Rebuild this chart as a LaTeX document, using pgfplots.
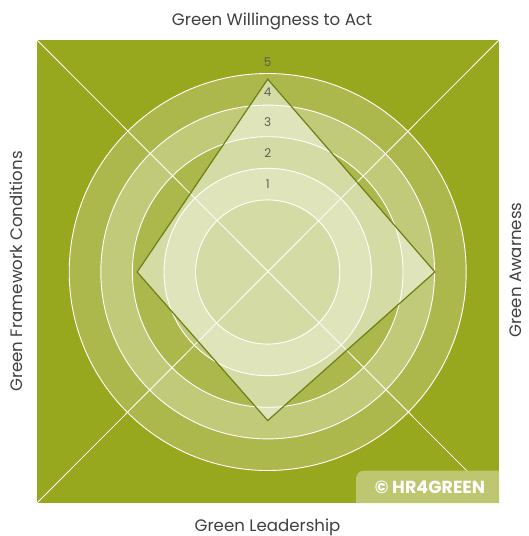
\documentclass[border=0pt]{standalone}
\usepackage{fontspec}
\setmainfont{Poppins}
\usepackage{pgfplots}
\pgfplotsset{compat=1.18}
\usepackage{pgfplotstable}
\definecolor{bg}{HTML}{97A71E}
\definecolor{darkband}{HTML}{ACB84B}
\definecolor{lightband}{HTML}{C1CA78}
\definecolor{edge}{HTML}{6E7F16}
\definecolor{boxc}{HTML}{BEC76F}
\definecolor{txt}{HTML}{404040}
\definecolor{numc}{HTML}{5F5F55}

\pgfplotstableread{
angle value
90 4.82
0 4.01
270 3.42
180 2.85
}\radar

\begin{document}
\begin{tikzpicture}
\begin{axis}[
 width=528pt, height=536pt, scale only axis,
 xmin=0, xmax=528, ymin=0, ymax=536, y dir=reverse,
 hide axis, clip=false,
]
\path (axis cs:0,0) rectangle (axis cs:528,536);
\fill[bg] (axis cs:37,40) rectangle (axis cs:499,503);
\fill[darkband] (axis cs:267.7,272) circle[radius=198.5pt];
\fill[lightband] (axis cs:267.7,272) circle[radius=166.9pt];
\fill[darkband] (axis cs:267.7,272) circle[radius=135.3pt];
\fill[lightband] (axis cs:267.7,272) circle[radius=103.7pt];
\fill[darkband] (axis cs:267.7,272) circle[radius=72.1pt];
\draw[white, line width=0.9pt] (axis cs:267.7,272) circle[radius=72.1pt];
\draw[white, line width=0.9pt] (axis cs:267.7,272) circle[radius=103.7pt];
\draw[white, line width=0.9pt] (axis cs:267.7,272) circle[radius=135.3pt];
\draw[white, line width=0.9pt] (axis cs:267.7,272) circle[radius=166.9pt];
\draw[white, line width=0.9pt] (axis cs:267.7,272) circle[radius=198.5pt];
\draw[white, line width=0.8pt] (axis cs:37,40) -- (axis cs:499,503);
\draw[white, line width=0.8pt] (axis cs:499,40) -- (axis cs:37,503);
\addplot[fill=white, fill opacity=0.5, draw=edge, line width=1.2pt, line join=miter]
  table[x expr={267.7+(40.5+31.6*\thisrow{value})*cos(\thisrow{angle})},
        y expr={272-(40.5+31.6*\thisrow{value})*sin(\thisrow{angle})}] {\radar} -- cycle;
\node[numc, font=\fontsize{12}{14}\selectfont] at (axis cs:267.7,184.3) {1};
\node[numc, font=\fontsize{12}{14}\selectfont] at (axis cs:267.7,153.3) {2};
\node[numc, font=\fontsize{12}{14}\selectfont] at (axis cs:267.7,122.3) {3};
\node[numc, font=\fontsize{12}{14}\selectfont] at (axis cs:267.7,92.3) {4};
\node[numc, font=\fontsize{12}{14}\selectfont] at (axis cs:267.7,61.7) {5};
\fill[boxc] (axis cs:499,503) -- (axis cs:356,503) -- (axis cs:356,478.7)
  arc[start angle=180, end angle=90, radius=8pt] -- (axis cs:499,470.7) -- cycle;
\node[white, font=\fontsize{17.5}{20}\selectfont\bfseries, anchor=base, inner sep=0pt] at (axis cs:430,493.3) {© HR4GREEN};
\node[txt, font=\fontsize{16.6}{19}\selectfont, anchor=base, inner sep=0pt, overlay] at (axis cs:272,25) {Green Willingness to Act};
\node[txt, font=\fontsize{16.6}{19}\selectfont, anchor=base, inner sep=0pt, overlay] at (axis cs:267.5,531.3) {Green Leadership};
\node[txt, font=\fontsize{16.6}{19}\selectfont, anchor=base, rotate=90, inner sep=0pt, overlay] at (axis cs:23,271.5) {Green Framework Conditions};
\node[txt, font=\fontsize{16.6}{19}\selectfont, anchor=base, rotate=90, inner sep=0pt, overlay] at (axis cs:521.5,270) {Green Awarness};
\end{axis}
\end{tikzpicture}
\end{document}
